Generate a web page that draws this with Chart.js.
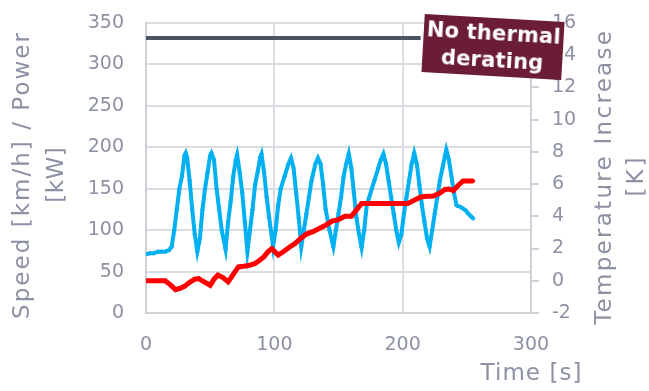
<!DOCTYPE html>
<html>
<head>
<meta charset="utf-8">
<script src="https://cdn.jsdelivr.net/npm/chart.js@4.4.1/dist/chart.umd.min.js"></script>
<style>
    html, body { margin: 0; padding: 0; background: #fff; }
    #wrap { position: relative; width: 649px; height: 391px; }
    #note {
        position: absolute; left: 423px; top: 18px; width: 140px; height: 58px;
        background: #6b1d35; color: #fff; transform: rotate(3.3deg);
        font: bold 21px "DejaVu Sans", sans-serif; letter-spacing: 0.2px;
        text-align: center; line-height: 27px; padding-top: 2px; box-sizing: border-box;
        white-space: nowrap;
    }
</style>
</head>
<body>
<div id="wrap">
    <canvas id="c" width="649" height="391"></canvas>
    <div id="note">No thermal<br>derating</div>
</div>
<script>
// speed [km/h]
const speedTime = [0, 3, 6, 9, 12, 15, 18, 20, 22, 24, 26, 28, 30, 31, 32, 34, 36, 38, 40, 42, 44, 46, 48, 50, 51, 53, 55, 57, 59, 62,
    64, 66, 68, 70, 71, 73, 75, 77, 79, 81, 83, 85, 87, 89, 90, 92, 94, 96, 99, 101, 103, 105, 108, 111, 113, 115, 117, 119, 121,
    123, 125, 127, 129, 132, 134, 136, 138, 140, 143, 146, 148, 150, 152, 154, 156, 158, 160, 162, 164, 166, 168, 170, 172, 174,
    176, 178, 181, 183, 185, 187, 189, 191, 193, 195, 197, 199, 201, 203, 205, 207, 209, 211, 213, 215, 217, 219, 221, 223, 225,
    227, 229, 231, 233, 234, 236, 238, 240, 242, 245, 247, 249, 251, 253, 255];
const speedValues = [71, 72, 72, 74, 74, 74, 76, 80, 100, 125, 150, 165, 190, 193, 188, 160, 125, 95, 74, 90, 125, 150, 170, 190, 193, 185, 150, 125, 100, 77,
    110, 135, 165, 185, 191, 170, 145, 110, 74, 100, 125, 155, 170, 188, 192, 170, 140, 115, 80, 100, 130, 150, 165, 180, 187, 175, 145, 115, 80,
    100, 120, 140, 160, 180, 187, 180, 155, 125, 100, 80, 100, 120, 140, 165, 180, 192, 175, 145, 115, 95, 79, 100, 130, 140,
    150, 160, 175, 185, 192, 180, 160, 140, 120, 100, 85, 95, 120, 140, 160, 180, 193, 180, 155, 130, 110, 90, 80, 100, 120,
    140, 160, 175, 190, 197, 185, 165, 145, 130, 128, 126, 124, 120, 117, 114];

// temperature increase [K]
const tempTime = [0, 5, 10, 15, 19, 23, 27, 30, 34, 38, 41, 45, 50, 53, 56, 60, 64, 68, 72, 76, 80, 85, 88, 92, 95, 98, 103, 107,
    112, 116, 120, 125, 130, 135, 140, 145, 150, 155, 160, 164, 168, 175, 185, 195, 204, 209, 214, 219, 224, 229, 233, 236, 239.5,
    243, 247, 251, 255];
const tempValues = [0, 0, 0, 0, -0.25, -0.55, -0.45, -0.35, -0.1, 0.1, 0.14, -0.05, -0.28, 0.1, 0.35, 0.2, -0.07, 0.4, 0.86, 0.9, 0.95, 1.07, 1.25, 1.5, 1.8, 2.0, 1.6, 1.8,
    2.1, 2.3, 2.6, 2.9, 3.05, 3.25, 3.45, 3.7, 3.8, 4.0, 4.0, 4.4, 4.8, 4.8, 4.8, 4.8, 4.8, 5.0, 5.2, 5.25, 5.26, 5.45, 5.67, 5.7, 5.6,
    5.9, 6.2, 6.2, 6.2];

// power limit [kW]
const limitTime = [0, 214];
const limitValues = [332, 332];

const xTicks = [0, 100, 200, 300];
const leftTicks = [0, 50, 100, 150, 200, 250, 300, 350];
const rightTicks = [-2, 0, 2, 4, 6, 8, 10, 12, 14, 16];

const grey = '#8c91a4';
const gridCol = '#dcdde3';
const axisCol = '#cfd1d8';
const family = '"DejaVu Sans", sans-serif';
const font = { family: family, size: 19 };
const pts = (xs, ys) => xs.map((x, i) => ({ x: x, y: ys[i] }));

// axis titles: drawn by hand so they can be spaced/rotated like the original
const axisTitles = {
    id: 'axisTitles',
    afterDraw: (chart) => {
        const c = chart.ctx;
        const put = (text, x, y, width, rot) => {
            c.save();
            c.font = '23px ' + family;
            c.letterSpacing = '0px';
            const w = c.measureText(text).width;
            const sp = Math.max(0, (width - w) / text.length);
            c.letterSpacing = sp + 'px';
            c.fillStyle = grey;
            c.textAlign = 'center';
            c.textBaseline = 'middle';
            c.translate(x, y);
            c.rotate(rot);
            c.fillText(text, sp / 2, 0);
            c.restore();
        };
        const r = -Math.PI / 2;
        put('Speed [km/h] / Power', 23, 176, 288, r);
        put('[kW]', 57, 175, 56, r);
        put('Temperature Increase', 605, 178, 296, r);
        put('[K]', 637, 177, 42, r);
        put('Time [s]', chart.scales.x.getPixelForValue(300), 374, 102, 0);
    }
};

new Chart(document.getElementById('c'), {
    type: 'line',
    data: {
        datasets: [
            {
                data: pts(tempTime, tempValues), yAxisID: 'y2', order: 0,
                borderColor: '#ff0000', backgroundColor: '#ff0000', borderWidth: 5,
                pointRadius: 2, pointBorderWidth: 0, tension: 0
            },
            {
                data: pts(speedTime, speedValues), yAxisID: 'y', order: 1,
                borderColor: '#00b0f0', backgroundColor: '#00b0f0', borderWidth: 4,
                pointStyle: 'rectRot', pointRadius: 2.5, pointBorderWidth: 0, tension: 0
            },
            {
                data: pts(limitTime, limitValues), yAxisID: 'y', order: 2,
                borderColor: '#4d5461', borderWidth: 4, pointRadius: 0
            }
        ]
    },
    options: {
        responsive: false,
        animation: false,
        layout: { padding: { top: 23, right: 0, left: 0, bottom: 0 } },
        plugins: { legend: { display: false }, tooltip: { enabled: false } },
        scales: {
            x: {
                type: 'linear', min: 0, max: 300,
                afterBuildTicks: (s) => { s.ticks = xTicks.map(v => ({ value: v })); },
                afterFit: (s) => { s.height = 78; s.paddingLeft = 0; s.paddingRight = 0; },
                grid: { color: gridCol, lineWidth: 2, drawTicks: false },
                border: { color: axisCol, width: 2 },
                ticks: { color: grey, font: font, padding: 21, maxRotation: 0 }
            },
            y: {
                position: 'left', min: 0, max: 350,
                afterBuildTicks: (s) => { s.ticks = leftTicks.map(v => ({ value: v })); },
                afterFit: (s) => { s.width = 146; s.paddingTop = 0; s.paddingBottom = 0; },
                grid: { color: gridCol, lineWidth: 2, drawTicks: false },
                border: { color: axisCol, width: 2 },
                ticks: { color: grey, font: font, padding: 22 }
            },
            y2: {
                position: 'right', min: -2, max: 16,
                afterBuildTicks: (s) => { s.ticks = rightTicks.map(v => ({ value: v })); },
                afterFit: (s) => { s.width = 118; s.paddingTop = 0; s.paddingBottom = 0; },
                grid: { drawOnChartArea: false, color: axisCol, lineWidth: 2, tickLength: 8 },
                border: { color: axisCol, width: 2 },
                ticks: { color: grey, font: font, padding: 13 }
            }
        }
    },
    plugins: [axisTitles]
});
</script>
</body>
</html>
